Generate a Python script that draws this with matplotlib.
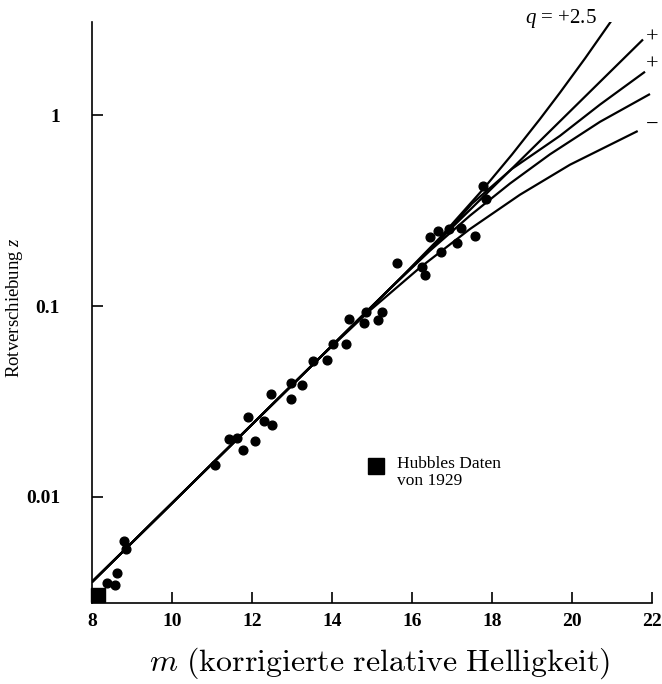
import matplotlib
matplotlib.use("Agg")
import matplotlib.pyplot as plt

# Messpunkte (m, z)
m_pts = [8.37, 8.58, 8.62, 8.81, 8.86, 11.08, 11.43, 11.63, 11.78, 11.89,
         12.08, 12.30, 12.49, 12.48, 12.98, 12.97, 13.24, 13.52, 13.88, 14.02,
         14.34, 14.43, 14.80, 14.85, 15.16, 15.25, 15.62, 16.24, 16.33, 16.45,
         16.66, 16.72, 16.93, 17.13, 17.22, 17.58, 17.78, 17.85]
z_pts = [0.00356, 0.00345, 0.00398, 0.00589, 0.00532, 0.01466, 0.02005,
         0.02028, 0.01762, 0.02611, 0.01959, 0.02500, 0.02382, 0.03451,
         0.03251, 0.03964, 0.03853, 0.05176, 0.05215, 0.06295, 0.06295,
         0.08551, 0.08118, 0.09333, 0.08449, 0.09333, 0.1686, 0.1595, 0.1453,
         0.2307, 0.2471, 0.1923, 0.2530, 0.2128, 0.2552, 0.2323, 0.4246, 0.3622]

# Hubbles Daten von 1929
hubble_m = 8.15
hubble_z = 0.00307

# Modellkurven fuer verschiedene q
m_q25 = [8.0, 15.7, 16.7, 17.775, 18.5, 19.2, 19.7, 20.325, 20.9925]
z_q25 = [0.00359, 0.1390, 0.2281, 0.4083, 0.6213, 0.9530, 1.310, 1.978, 3.131]
m_q1 = [8.0, 21.775]
z_q1 = [0.00359, 2.485]
m_q05 = [8.0, 15.7, 16.7, 17.5, 18.5, 19.7, 20.7, 21.825]
z_q05 = [0.00359, 0.1390, 0.2208, 0.3435, 0.5226, 0.7783, 1.134, 1.685]
m_q0 = [8.0, 15.45, 16.45, 17.45, 18.45, 19.45, 20.7, 21.95]
z_q0 = [0.00359, 0.1233, 0.1949, 0.2974, 0.4379, 0.6227, 0.9213, 1.288]
m_qm1 = [8.0, 13.7, 14.95, 16.2, 17.45, 18.7, 19.95, 21.6425]
z_qm1 = [0.00359, 0.05373, 0.09483, 0.1589, 0.2530, 0.3826, 0.5493, 0.8244]

x_ticks = [8, 10, 12, 14, 16, 18, 20, 22]
y_ticks = [0.01, 0.1, 1]
y_labels = ["0.01", "0.1", "1"]

plt.rcParams["font.family"] = ["Liberation Serif", "DejaVu Serif"]
plt.rcParams["mathtext.fontset"] = "custom"
plt.rcParams["mathtext.rm"] = "Liberation Serif"
plt.rcParams["mathtext.it"] = "Liberation Serif:italic"

fig = plt.figure(figsize=(6.62, 6.84), dpi=100)
ax = fig.add_axes([92 / 662, 81 / 684, 560 / 662, 581 / 684])

lw = 1.6
for mm, zz in [(m_q25, z_q25), (m_q1, z_q1), (m_q05, z_q05),
               (m_q0, z_q0), (m_qm1, z_qm1)]:
    ax.plot(mm, zz, color="black", lw=lw, solid_capstyle="butt",
            solid_joinstyle="round")

ax.plot(m_pts, z_pts, "o", color="black", ms=6.3, mec="black")
ax.plot([hubble_m], [hubble_z], "s", color="black", ms=10, clip_on=False)

# Legende
ax.plot([15.11], [0.01445], "s", color="black", ms=12)
ax.text(15.63, 0.01343, "Hubbles Daten\nvon 1929", fontsize=12.5,
        ha="left", va="center", linespacing=1.1)

# Kurvenbeschriftungen
ax.text(20.625, 3.22, "$q$ = +2.5", fontsize=15, ha="right", va="center",
        clip_on=False)
ax.text(21.85, 2.53, "+", fontsize=16, ha="left", va="center", clip_on=False)
ax.text(21.85, 1.827, "+", fontsize=16, ha="left", va="center", clip_on=False)
ax.text(21.85, 0.886, "\u2212", fontsize=16, ha="left", va="center",
        clip_on=False)

ax.set_yscale("log")
ax.set_xlim(8, 22)
ax.set_ylim(0.002786, 3.069)
ax.set_xticks(x_ticks)
ax.set_xticklabels([str(t) for t in x_ticks])
ax.set_yticks(y_ticks)
ax.set_yticklabels(y_labels)
ax.minorticks_off()
ax.tick_params(axis="both", direction="in", length=8, width=1.2,
               labelsize=14)
ax.tick_params(axis="x", pad=7)
ax.tick_params(axis="y", pad=23)
for lab in ax.get_xticklabels() + ax.get_yticklabels():
    lab.set_fontweight("bold")

for side in ["top", "right"]:
    ax.spines[side].set_visible(False)
for side in ["left", "bottom"]:
    ax.spines[side].set_linewidth(1.2)

ax.set_ylabel("Rotverschiebung $z$", fontsize=13.5)
ax.yaxis.set_label_coords(-0.12, 0.508)
ax.set_xlabel(r"$m\ \mathrm{(korrigierte\ relative\ Helligkeit)}$",
              fontsize=23, math_fontfamily="cm")
ax.xaxis.set_label_coords(0.514, -0.073)

fig.savefig("out.png", dpi=100)
